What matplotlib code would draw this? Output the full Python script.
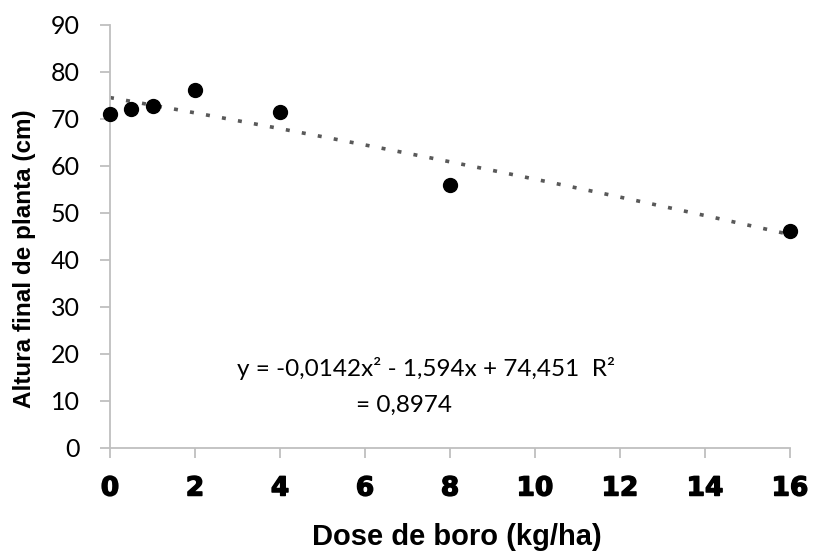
import numpy as np
import matplotlib
matplotlib.use("Agg")
import matplotlib.pyplot as plt
import matplotlib.patheffects as pe

# Data
dose = [0, 0.5, 1, 2, 4, 8, 16]
altura = [71.0, 72.1, 72.6, 76.1, 71.4, 55.9, 46.1]
coef = [-0.0142, -1.594, 74.451]  # trendline y = a x^2 + b x + c
eq_line1 = "y = -0,0142x² - 1,594x + 74,451  R²"
eq_line2 = "= 0,8974"
xticks = [0, 2, 4, 6, 8, 10, 12, 14, 16]
yticks = [0, 10, 20, 30, 40, 50, 60, 70, 80, 90]

W, H = 813, 551
fig = plt.figure(figsize=(W / 100, H / 100), dpi=100)
ax = fig.add_axes([110 / W, 1 - 447.5 / H, 680 / W, 423 / H])

xs = np.linspace(0, 16, 200)
ys = np.polyval(coef, xs)
ax.plot(xs, ys, color="#595959", lw=2.6, linestyle=(0, (1.1, 3.4)),
        dash_capstyle="butt", zorder=2)
ax.plot(dose, altura, "o", color="black", markersize=10, zorder=3,
        clip_on=False)

ax.set_xlim(0, 16)
ax.set_ylim(0, 90)
ax.set_xticks(xticks)
ax.set_yticks(yticks)
ax.set_xticklabels([str(t) for t in xticks], fontfamily="DejaVu Sans",
                   fontweight="bold", fontsize=19,
                   path_effects=[pe.withStroke(linewidth=1.0, foreground="black")])
ax.set_yticklabels([str(t) for t in yticks], fontfamily="Lato", fontsize=18)

for s in ["top", "right"]:
    ax.spines[s].set_visible(False)
for s in ["left", "bottom"]:
    ax.spines[s].set_color("#bfbfbf")
    ax.spines[s].set_linewidth(1.3)
ax.tick_params(axis="both", direction="out", length=7.2, width=1.3,
               color="#bfbfbf")
ax.tick_params(axis="y", pad=14.5)
ax.tick_params(axis="x", pad=13)

fig.text(456.5 / W, 1 - 537 / H, "Dose de boro (kg/ha)",
         fontfamily="Liberation Sans", fontweight="bold", fontsize=21,
         ha="center", va="center")
fig.text(25 / W, 1 - 258.5 / H, "Altura final de planta (cm)",
         fontfamily="Liberation Sans", fontweight="bold", fontsize=17.5,
         ha="center", va="center", rotation=90)

fig.text(426 / W, 1 - 368 / H, eq_line1,
         fontfamily="Lato", fontsize=17.5, ha="center", va="center")
fig.text(404 / W, 1 - 405 / H, eq_line2,
         fontfamily="Lato", fontsize=17.5, ha="center", va="center")

fig.savefig("out.png", dpi=100)
